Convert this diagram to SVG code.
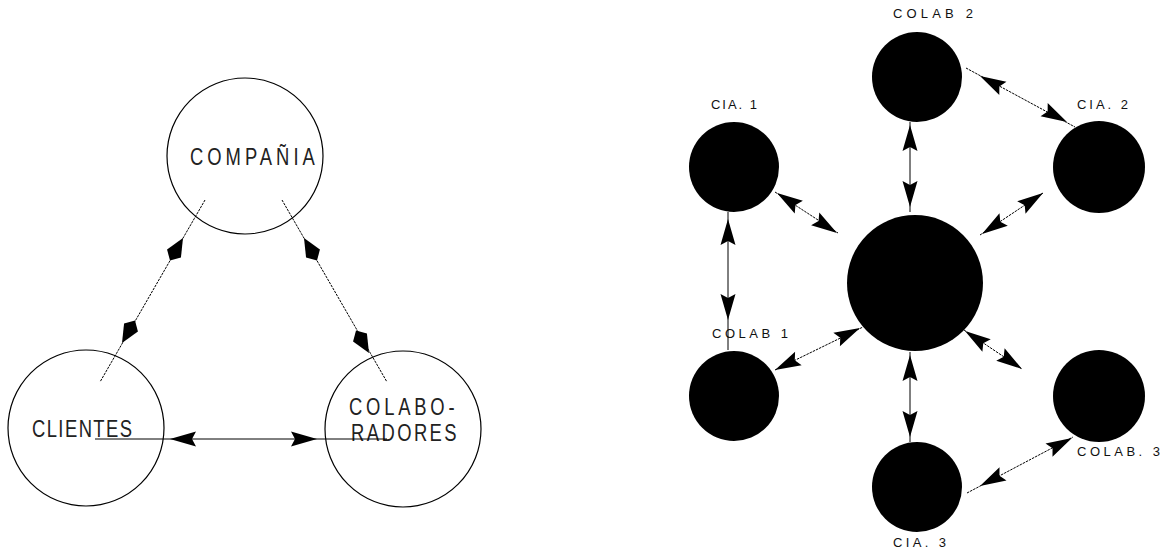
<svg xmlns="http://www.w3.org/2000/svg" xmlns:xlink="http://www.w3.org/1999/xlink" width="1171" height="548" viewBox="0 0 1171 548">
<style>
.ring{fill:none;stroke:#000;stroke-width:1.2}
.disc{fill:#000;stroke:none}
.big{font-family:"Liberation Sans",Arial,sans-serif;font-size:23px;fill:#222}
.small{font-family:"Liberation Sans",Arial,sans-serif;font-size:13px;fill:#111}
.ln{stroke:#000;stroke-width:1;fill:none}
.dl{stroke:#000;stroke-width:1;fill:none;stroke-dasharray:2.5 1}
.ah{fill:#000}
</style>
<defs>
<path id="tri" d="M0,0 L-26,-7.5 L-22,0 L-26,7.5 Z"/>
<path id="kite" d="M0,0 L-18,-8 L-26,0 L-18,8 Z"/>
</defs>
<rect width="1171" height="548" fill="#fff"/>

<g id="compania">
<circle class="ring" cx="245" cy="156" r="78"/>
<text class="big" transform="translate(190,165) scale(0.8,1)" x="0" y="0" textLength="156" lengthAdjust="spacing">COMPAÑIA</text>
</g>
<g id="clientes">
<circle class="ring" cx="86" cy="428" r="78"/>
<text class="big" transform="translate(32,437) scale(0.8,1)" x="0" y="0" textLength="125" lengthAdjust="spacing">CLIENTES</text>
</g>
<g id="colaboradores">
<circle class="ring" cx="403" cy="429" r="78"/>
<text class="big" transform="translate(349,415) scale(0.8,1)" x="0" y="0" textLength="132" lengthAdjust="spacing">COLABO-</text>
<text class="big" transform="translate(351,441) scale(0.8,1)" x="0" y="0" textLength="132" lengthAdjust="spacing">RADORES</text>
</g>

<g id="colab2">
<circle class="disc" cx="917" cy="77" r="45"/>
<text class="small" x="893" y="18" textLength="80" lengthAdjust="spacing">COLAB 2</text>
</g>
<g id="cia1">
<circle class="disc" cx="734" cy="167" r="45"/>
<text class="small" x="711" y="109" textLength="46" lengthAdjust="spacing">CIA. 1</text>
</g>
<g id="cia2">
<circle class="disc" cx="1099" cy="167" r="46"/>
<text class="small" x="1077" y="109" textLength="51" lengthAdjust="spacing">CIA. 2</text>
</g>
<g id="centro">
<circle class="disc" cx="915" cy="283" r="68"/>
</g>
<g id="colab1">
<circle class="disc" cx="734" cy="396" r="45"/>
<text class="small" x="712" y="338" textLength="76" lengthAdjust="spacing">COLAB 1</text>
</g>
<g id="colab3">
<circle class="disc" cx="1099" cy="396" r="46"/>
<text class="small" x="1077" y="456" textLength="83" lengthAdjust="spacing">COLAB. 3</text>
</g>
<g id="cia3">
<circle class="disc" cx="917" cy="487" r="45"/>
<text class="small" x="893" y="547" textLength="53" lengthAdjust="spacing">CIA. 3</text>
</g>

<g id="connectors">
<!-- left diagram -->
<line class="dl" x1="205" y1="200" x2="100" y2="382"/>
<use href="#kite" class="ah" transform="translate(183,238) rotate(-60)"/>
<use href="#kite" class="ah" transform="translate(122,343) rotate(120)"/>
<line class="dl" x1="282" y1="200" x2="387" y2="382"/>
<use href="#kite" class="ah" transform="translate(304,238) rotate(-120)"/>
<use href="#kite" class="ah" transform="translate(369,353) rotate(60)"/>
<line class="ln" x1="95" y1="439" x2="387" y2="439"/>
<use href="#tri" class="ah" transform="translate(170,439) rotate(180)"/>
<use href="#tri" class="ah" transform="translate(317,439)"/>

<!-- right diagram -->
<line class="ln" x1="910" y1="122" x2="910" y2="212"/>
<use href="#tri" class="ah" transform="translate(910,125) rotate(-90)"/>
<use href="#tri" class="ah" transform="translate(910,207) rotate(90)"/>

<line class="dl" x1="966" y1="68" x2="1075" y2="127"/>
<use href="#tri" class="ah" transform="translate(980,76) rotate(208.4)"/>
<use href="#tri" class="ah" transform="translate(1067,122) rotate(28.4)"/>

<line class="dl" x1="775" y1="192" x2="838" y2="233"/>
<use href="#tri" class="ah" transform="translate(777,193) rotate(213)"/>
<use href="#tri" class="ah" transform="translate(837,233) rotate(33)"/>

<line class="dl" x1="1043" y1="193" x2="980" y2="235"/>
<use href="#tri" class="ah" transform="translate(1043,193) rotate(-33.7)"/>
<use href="#tri" class="ah" transform="translate(982,234) rotate(146.3)"/>

<line class="ln" x1="728" y1="212" x2="728" y2="350"/>
<use href="#tri" class="ah" transform="translate(728,219) rotate(-90)"/>
<use href="#tri" class="ah" transform="translate(728,320) rotate(90)"/>

<line class="dl" x1="775" y1="370" x2="863" y2="327"/>
<use href="#tri" class="ah" transform="translate(775,370) rotate(154)"/>
<use href="#tri" class="ah" transform="translate(860,328) rotate(-26)"/>

<line class="dl" x1="964" y1="330" x2="1022" y2="369"/>
<use href="#tri" class="ah" transform="translate(965,331) rotate(213.9)"/>
<use href="#tri" class="ah" transform="translate(1022,369) rotate(33.9)"/>

<line class="ln" x1="910" y1="352" x2="910" y2="442"/>
<use href="#tri" class="ah" transform="translate(910,355) rotate(-90)"/>
<use href="#tri" class="ah" transform="translate(910,437) rotate(90)"/>

<line class="dl" x1="967" y1="493" x2="1073" y2="437"/>
<use href="#tri" class="ah" transform="translate(980,486) rotate(152.2)"/>
<use href="#tri" class="ah" transform="translate(1072,438) rotate(-27.8)"/>
</g>
</svg>
